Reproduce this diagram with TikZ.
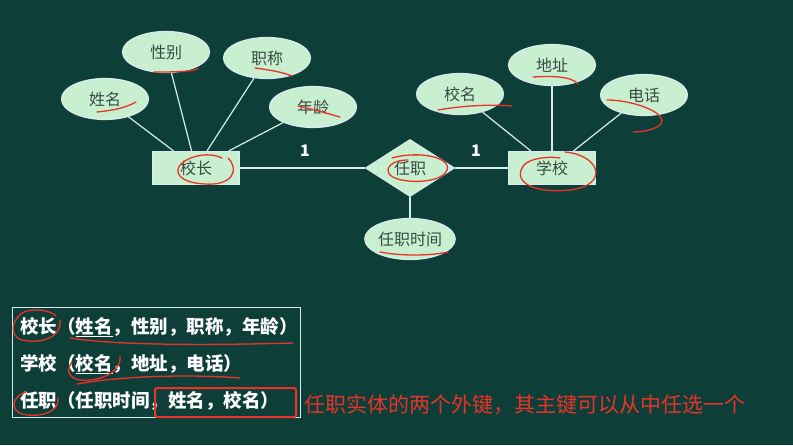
\documentclass[tikz,border=0pt]{standalone}
\usepackage{fontspec}
\setmainfont{Noto Sans CJK SC}
\usetikzlibrary{shapes.geometric}

\definecolor{boardc}{RGB}{14,62,56}
\definecolor{shapec}{RGB}{200,240,208}
\definecolor{edgec}{RGB}{215,235,240}
\definecolor{textc}{RGB}{55,75,68}
\definecolor{penc}{RGB}{232,52,40}

\tikzset{
  attr/.style={ellipse, draw=edgec, fill=shapec, line width=1.2pt,
    minimum width=87pt, minimum height=41pt, inner sep=0pt,
    text=textc, font=\fontsize{16}{16}\selectfont},
  ent/.style={rectangle, draw=edgec, fill=shapec, line width=1.2pt,
    minimum width=87pt, minimum height=33pt, inner sep=0pt,
    text=textc, font=\fontsize{16}{16}\selectfont},
  rel/.style={diamond, draw=edgec, fill=shapec, line width=1.2pt,
    minimum width=89pt, minimum height=57pt, inner sep=0pt,
    text=textc, font=\fontsize{16}{16}\selectfont},
  link/.style={draw=edgec, line width=1.2pt},
  schema/.style={anchor=west, text=white, inner sep=0pt,
    font=\bfseries\fontsize{18.5}{18.5}\selectfont},
  scribble/.style={draw=penc, line width=1.3pt, line cap=round}
}

\begin{document}
\begin{tikzpicture}[x=1pt,y=-1pt]

\fill[boardc] (0,0) rectangle (793,445);
\useasboundingbox (0,0) rectangle (793,445);

% principal side
\node[ent] (xz) at (196,168) {校长};
\node[attr] (xm) at (105,99) {姓名};
\node[attr] (xb) at (166,52) {性别};
\node[attr] (zc) at (267,58) {职称};
\node[attr] (nl) at (313,107) {年龄};
\draw[link] (xm) -- (xz);
\draw[link] (xb) -- (xz);
\draw[link] (zc) -- (xz);
\draw[link] (nl) -- (xz);

% school side
\node[ent] (xx) at (552,168) {学校};
\node[attr] (xmc) at (460,94) {校名};
\node[attr] (dz) at (552,65) {地址};
\node[attr] (dh) at (644,95) {电话};
\draw[link] (xmc) -- (xx);
\draw[link] (dz) -- (xx);
\draw[link] (dh) -- (xx);

% relation
\node[rel] (rz) at (410,168) {任职};
\node[attr] (rzsj) at (410,239) {任职时间};
\draw[link] (xz) -- (rz);
\draw[link] (rz) -- (xx);
\draw[link] (rz) -- (rzsj);
\node[text=white, font=\bfseries\fontsize{16}{16}\selectfont] (n1) at (305,151) {1};
\node[text=white, font=\bfseries\fontsize{16}{16}\selectfont] (n2) at (476,151) {1};

% relational schema
\draw[edgec, line width=1pt] (12,307) rectangle (300,417);
\node[schema] (s1) at (20,327) {校长（\underline{姓名}，性别，职称，年龄）};
\node[schema] (s2) at (20,364) {学校（\underline{校名}，地址，电话）};
\node[schema] (s3) at (20,401) {任职（任职时间，姓名，校名）};
\draw[penc, line width=2pt, rounded corners=2pt] (155,388) rectangle (296,417);
\node[anchor=west, text=penc, inner sep=0pt, font=\fontsize{21}{21}\selectfont] (note) at (304,405) {任职实体的两个外键，其主键可以从中任选一个};

% pen marks
\draw[scribble] (97,112) .. controls (115,110) and (125,108) .. (136,102);
\draw[scribble] (154,72) .. controls (170,72) and (188,72) .. (198,69);
\draw[scribble] (255,68) .. controls (270,70) and (282,72) .. (292,76);
\draw[scribble] (298,106) .. controls (312,109) and (326,113) .. (340,117);
\draw[scribble] (228,158) .. controls (240,170) and (232,186) .. (205,184)
  .. controls (180,183) and (172,172) .. (182,163)
  .. controls (192,155) and (210,152) .. (222,158);
\draw[scribble] (438,110) .. controls (460,106) and (490,104) .. (512,106);
\draw[scribble] (533,77) .. controls (550,76) and (572,76) .. (578,84);
\draw[scribble] (607,100) .. controls (630,100) and (660,110) .. (662,120)
  .. controls (663,128) and (645,132) .. (633,132);
\draw[scribble] (565,152) .. controls (600,155) and (610,185) .. (570,190)
  .. controls (530,194) and (512,180) .. (524,165)
  .. controls (530,158) and (550,156) .. (560,158);
\draw[scribble] (392,158) .. controls (420,150) and (455,158) .. (446,172)
  .. controls (438,184) and (400,184) .. (390,175)
  .. controls (384,168) and (392,160) .. (408,160);
\draw[scribble] (380,252) .. controls (400,256) and (430,256) .. (448,252);
\draw[scribble] (60,320) .. controls (62,338) and (40,344) .. (22,340)
  .. controls (8,336) and (12,318) .. (24,312)
  .. controls (34,308) and (50,310) .. (56,316);
\draw[scribble] (70,338) .. controls (120,346) and (220,345) .. (293,343);
\draw[scribble] (120,356) .. controls (122,372) and (100,382) .. (80,380)
  .. controls (68,378) and (66,370) .. (72,362);
\draw[scribble] (77,384) .. controls (120,376) and (190,374) .. (240,378);
\draw[scribble] (58,398) .. controls (60,412) and (40,418) .. (22,414)
  .. controls (10,410) and (12,396) .. (26,392);

\end{tikzpicture}
\end{document}
